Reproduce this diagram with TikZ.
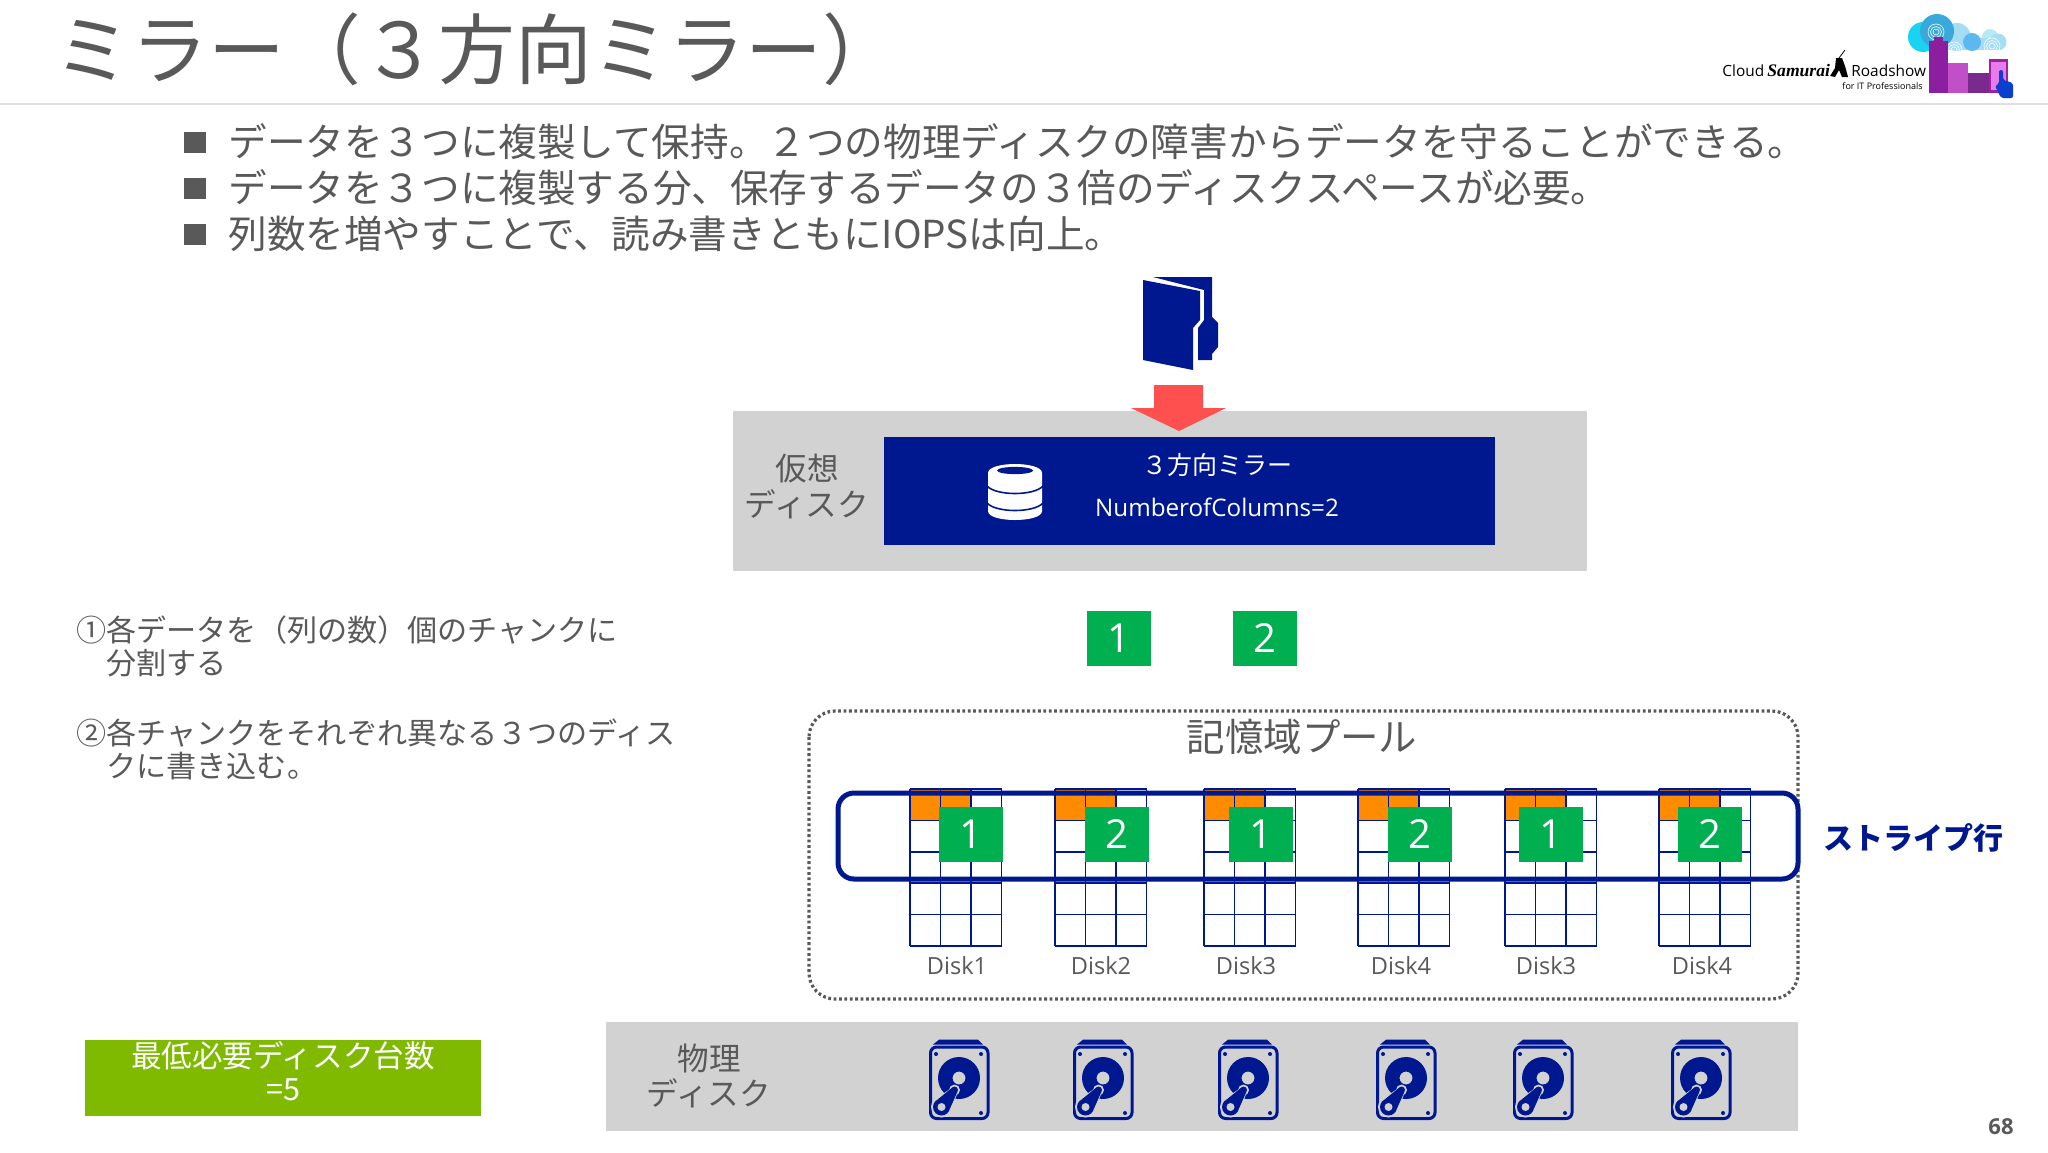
\documentclass[tikz,border=0pt]{standalone}
\usepackage{fontspec}
\setmainfont{Noto Sans CJK JP}
\newfontfamily\latinf{Open Sans}
\newfontfamily\serf{Liberation Serif}
\definecolor{navy}{HTML}{00188F}
\definecolor{txt}{HTML}{595959}
\definecolor{panel}{HTML}{D2D2D2}
\definecolor{chunkg}{HTML}{00AF50}
\definecolor{orng}{HTML}{FF8C00}
\definecolor{redarrow}{HTML}{FF5050}
\definecolor{lime}{HTML}{7FBA00}
\definecolor{cl1}{HTML}{19D3F3}
\definecolor{cl2}{HTML}{39A9DB}
\definecolor{cl3}{HTML}{A5DDF5}
\definecolor{cl4}{HTML}{5CB8EE}
\definecolor{cl5}{HTML}{B4ECF5}
\definecolor{bd1}{HTML}{8B1FA0}
\definecolor{bd2}{HTML}{C04FC8}
\definecolor{bd3}{HTML}{7A2A8F}
\definecolor{bd4}{HTML}{A020A0}
\definecolor{bd5}{HTML}{E87BEA}
\definecolor{hand}{HTML}{0A3FD0}
\tikzset{
  lbl/.style={inner sep=0pt,text=txt,anchor=base west},
  lblc/.style={inner sep=0pt,text=txt,anchor=base},
  chunk/.style={fill=chunkg,text=white,inner sep=0pt,minimum width=32pt,minimum height=27.5pt,font=\latinf\fontsize{20}{24}\selectfont},
  gridline/.style={draw=navy,line width=0.85pt},
  ring/.style={draw=white,line width=0.3pt},
  pics/hdd/.style={code={
    \fill[navy] (4,5.5) -- (54,5.5) -- (49,0.7) -- (10,0.7) -- cycle;
    \draw[navy,line width=1.5pt,rounded corners=3pt] (1.5,8) rectangle (59,79.5);
    \fill[navy] (7,15) circle (2) (52,15) circle (2) (52,74) circle (2);
    \fill[navy,even odd rule] (30,39) circle (21) (30,39) circle (6.5);
    \fill[panel] (4.1,61.5) -- (24,48) -- (29,53) -- (20,75) -- cycle (12.5,68) circle (10.5) (25.5,51) circle (5.5);
    \fill[navy] (5.6,63) -- (22.7,49) -- (28.3,53) -- (19.4,73) -- cycle (12.5,68) circle (8.5) (25.5,51) circle (3.5);
    \fill[panel] (12.5,68) circle (4);
  }}
}
\begin{document}
\begin{tikzpicture}[x=0.5pt,y=-0.5pt]
\useasboundingbox (0,0) rectangle (2048,1152);
\fill[white] (0,0) rectangle (2048,1152);
% header
\node[lbl,font=\fontsize{38.4}{42}\selectfont] (title) at (54,78) {ミラー（３方向ミラー）};
\draw[black!12,line width=0.7pt] (0,104) -- (2048,104);
% logo
\fill[cl3] (1957,37) circle (14);
\fill[cl5] (1990,37) circle (8);
\fill[cl3] (1998,42) circle (8.5);
\fill[cl3] (1925,38) rectangle (1998,50);
\fill[cl1] (1923,37) circle (15);
\fill[cl4] (1972,42) circle (9);
\fill[cl2] (1937,31) circle (17);
\foreach \cx/\cy in {1936/32,1954/50,1992/46}{
  \draw[ring] (\cx,\cy) circle (3) (\cx,\cy) circle (5.5) (\cx,\cy) circle (8);
}
\fill[bd1] (1929,41) rectangle (1948,93);
\fill[bd1] (1934,37) rectangle (1943,41);
\fill[bd2] (1948,63) rectangle (1968,93);
\fill[bd3] (1968,73) rectangle (1990,93);
\fill[bd4] (1989,59) rectangle (2008,93);
\fill[bd5] (1991,62) rectangle (2006,90);
\fill[hand,rounded corners=1pt] (1999,70) -- (2003,70) -- (2003,80) -- (2013,83) -- (2013,98) -- (2001,98) -- (1995,86) -- (1999,84) -- cycle;
\node[inner sep=0pt,anchor=base west,font=\latinf\fontsize{7.7}{10}\selectfont] (lg1) at (1722,76) {Cloud};
\node[inner sep=0pt,anchor=base west,font=\serf\bfseries\itshape\fontsize{8.8}{10}\selectfont] (lg2) at (1767,76) {Samurai};
\fill[black] (1836,58) -- (1842,58) -- (1845,66) -- (1848,77) -- (1842,77) -- (1839,70) -- (1835,77) -- (1830,76) -- (1835,68) -- cycle;
\draw[black,line width=0.4pt] (1839,58) -- (1845,50);
\node[inner sep=0pt,anchor=base west,font=\latinf\fontsize{7.7}{10}\selectfont] (lg3) at (1851,76) {Roadshow};
\node[inner sep=0pt,anchor=base east,font=\latinf\fontsize{4.5}{6}\selectfont] (lg4) at (1923,89) {for IT Professionals};
% bullets
\foreach \by in {132,178,224}{
  \fill[txt] (184,\by) rectangle (206,\by+21);
}
\node[lbl,font=\fontsize{19.3}{22}\selectfont] (b1) at (228,156) {データを３つに複製して保持。２つの物理ディスクの障害からデータを守ることができる。};
\node[lbl,font=\fontsize{19.3}{22}\selectfont] (b2) at (228,202) {データを３つに複製する分、保存するデータの３倍のディスクスペースが必要。};
\node[lbl,font=\fontsize{19.3}{22}\selectfont] (b3) at (228,248) {列数を増やすことで、読み書きともにIOPSは向上。};
% folder
\fill[navy] (1153,277) -- (1212,277) -- (1212,317) -- (1218,323) -- (1218,347) -- (1212,354) -- (1212,360) -- (1198,360) -- (1198,328) -- (1204,320) -- (1204,290) -- cycle;
\fill[navy] (1143,280) -- (1200,291) -- (1200,320) -- (1193,328) -- (1193,370) -- (1143,360) -- cycle;
% virtual disk
\fill[panel] (733,411) rectangle (1587,571);
\fill[navy] (884,437) rectangle (1495,545);
\fill[redarrow] (1154,385) -- (1203,385) -- (1203,408) -- (1226,408) -- (1179,431) -- (1131,408) -- (1154,408) -- cycle;
\node[lblc,font=\fontsize{15.8}{18}\selectfont] (v1) at (807,480) {仮想};
\node[lblc,font=\fontsize{15.8}{18}\selectfont] (v2) at (807,516) {ディスク};
\node[lblc,text=white,font=\fontsize{12.5}{16}\selectfont] (m1) at (1217,474) {３方向ミラー};
\node[lblc,text=white,font=\latinf\fontsize{12.1}{16}\selectfont] (m2) at (1217,516) {NumberofColumns=2};
% database icon
\fill[white] (988,473) .. controls (988,461) and (1042,461) .. (1042,473) -- (1042,511) .. controls (1042,523) and (988,523) .. (988,511) -- cycle;
\draw[navy,line width=0.8pt] (987,486) .. controls (996,496) and (1034,496) .. (1043,486);
\draw[navy,line width=0.8pt] (987,503) .. controls (996,513) and (1034,513) .. (1043,503);
\fill[navy] (1015,470.5) ellipse (18 and 3.6);
% left notes
\node[lbl,font=\fontsize{15.05}{18}\selectfont] (n1) at (76,641) {①各データを（列の数）個のチャンクに};
\node[lbl,font=\fontsize{15.05}{18}\selectfont] (n2) at (106,674) {分割する};
\node[lbl,font=\fontsize{15.05}{18}\selectfont] (n3) at (76,744) {②各チャンクをそれぞれ異なる３つのディス};
\node[lbl,font=\fontsize{15.05}{18}\selectfont] (n4) at (106,777) {クに書き込む。};
% upper chunks
\node[chunk] (c1) at (1118.5,638) {1};
\node[chunk] (c2) at (1265,638) {2};
% pool
\draw[draw=txt,line width=1.6pt,dash pattern=on 1.4pt off 1.3pt,rounded corners=13pt] (809,711) rectangle (1798,999);
\node[lblc,font=\fontsize{19.2}{22}\selectfont] (pool) at (1302,751) {記憶域プール};
% disks
\foreach \n/\dx/\lab/\cx in {d1/910/Disk1/957,d2/1055/Disk2/1101,d3/1204/Disk3/1246,d4/1358/Disk4/1401,d5/1505/Disk3/1546,d6/1659/Disk4/1702}{
  \fill[orng] (\dx,789) rectangle (\dx+61,820);
  \foreach \i in {0,1,2,3}{ \draw[gridline] (\dx+\i*30.5,789) -- (\dx+\i*30.5,946); }
  \foreach \j in {0,1,2,3,4,5}{ \draw[gridline] (\dx,789+\j*31.4) -- (\dx+91.5,789+\j*31.4); }
  \node[inner sep=0pt,anchor=base,text=txt,font=\latinf\fontsize{11.8}{15}\selectfont] (\n lab) at (\cx,974) {\lab};
}
% stripe
\draw[navy,line width=2.5pt,rounded corners=8pt] (838,793) rectangle (1798,879);
% chunks on disks
\foreach \n/\gx/\num in {e1/970.5/1,e2/1117/2,e3/1261/1,e4/1420/2,e5/1551/1,e6/1710/2}{
  \node[chunk] (\n) at (\gx,834) {\num};
}
\node[inner sep=0pt,anchor=base west,text=navy,font=\bfseries\fontsize{15}{18}\selectfont] (stp) at (1823,849) {ストライプ行};
% physical disks
\fill[panel] (606,1022) rectangle (1798,1131);
\node[lblc,font=\fontsize{15.8}{18}\selectfont] (p1) at (709,1070) {物理};
\node[lblc,font=\fontsize{15.8}{18}\selectfont] (p2) at (709,1105) {ディスク};
\foreach \hx in {929,1073,1218,1376,1513,1671}{
  \pic at (\hx,1039) {hdd};
}
% minimum
\fill[lime] (85,1040) rectangle (481,1116);
\node[lblc,text=white,font=\fontsize{15.3}{18}\selectfont] (g1) at (283,1067) {最低必要ディスク台数};
\node[lblc,text=white,font=\fontsize{15.3}{18}\selectfont] (g2) at (283,1100) {=5};
\node[inner sep=0pt,anchor=base,text=txt,font=\latinf\bfseries\fontsize{11}{13}\selectfont] (pg) at (2001,1134) {68};
\end{tikzpicture}
\end{document}
